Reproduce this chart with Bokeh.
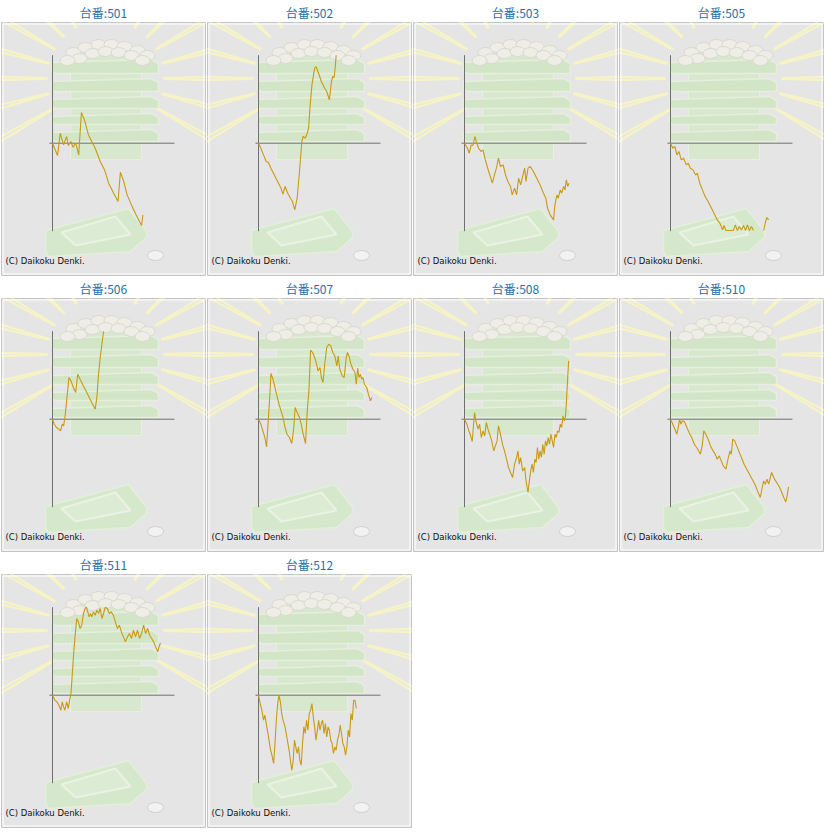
import math
from bokeh.plotting import figure
from bokeh.layouts import gridplot
from bokeh.models import Range1d, Label
from bokeh.embed import file_html
from bokeh.resources import INLINE

# ---------------- data (games played, ball difference) ----------------
machines = ["501", "502", "503", "505", "506", "507", "508", "510", "511", "512"]

games_501 = [0, 500, 767, 1100, 1400, 1567, 1833, 2033, 2300, 2600, 2867, 3167, 3567, 4233, 4733, 5167, 5567, 6067, 6500, 6733, 7067, 7400, 7833, 8300, 8833, 8967]
diff_501 = [0, -1230, 1000, -170, 670, -230, 170, -400, 0, -1170, 3070, 2330, 830, -500, -1830, -2670, -4000, -5000, -5830, -2900, -3830, -5170, -6170, -7170, -8230, -7170]

games_502 = [0, 233, 500, 767, 967, 1233, 1567, 1900, 2233, 2433, 2633, 2900, 3167, 3367, 3600, 3833, 4067, 4300, 4433, 4633, 4833, 4967, 5100, 5300, 5567, 5700, 5900, 6233, 6567, 6767, 7033, 7233, 7367, 7500, 7633, 7700]
diff_502 = [0, -500, -1170, -1830, -1900, -2500, -3170, -3830, -4500, -5100, -4330, -5000, -5500, -5830, -6670, -5500, -2830, 170, 670, 500, 1000, 1500, 3500, 5830, 7500, 7670, 7170, 6170, 5500, 5170, 4330, 6170, 6670, 6570, 7830, 8800]

games_503 = [0, 300, 467, 667, 833, 1033, 1167, 1400, 1633, 1833, 2067, 2400, 2767, 2967, 3167, 3367, 3567, 3833, 4067, 4300, 4567, 4733, 4967, 5167, 5367, 5567, 5800, 5967, 6100, 6300, 6500, 6633, 6833, 7167, 7500, 7833, 8067, 8233, 8500, 8833, 8967, 9167, 9300, 9500, 9633, 9833, 9967, 10100, 10233, 10367]
diff_503 = [0, -500, -1000, -170, -230, 670, 170, -500, -830, -670, -1670, -2830, -4000, -3170, -2500, -1500, -2330, -2170, -3170, -3830, -4330, -5170, -4500, -5170, -3500, -4170, -3170, -2500, -3830, -2500, -2330, -2500, -2830, -3500, -4170, -5000, -5500, -6500, -7170, -7670, -6170, -5170, -5500, -4670, -5000, -4330, -4670, -3670, -4330, -4000]

NAN = float("nan")
games_505 = [0, 233, 433, 633, 833, 1067, 1300, 1567, 1767, 1967, 2233, 2500, 2667, 2900, 3167, 3433, 3733, 4067, 4400, 4633, 4900, 5167, 5300, 5500, 5900, 6233, 6433, 6633, 6833, 7033, 7233, 7433, 7633, 7833, 8033, 8233, 8700, 9233, 9433, 9567, 9733]
diff_505 = [0, -500, -330, -1170, -830, -1670, -1500, -2170, -2000, -2500, -2670, -3170, -3000, -4000, -4670, -5330, -5830, -6500, -7170, -7670, -8000, -8670, -8230, -8730, -8730, -8730, -8170, -8730, -8330, -8670, -8230, -8730, -8170, -8730, -8330, -8730, NAN, -8730, -7830, -7430, -7670]

games_506 = [0, 167, 400, 633, 800, 967, 1100, 1233, 1400, 1633, 1833, 2067, 2300, 2500, 2733, 3067, 3400, 3733, 4067, 4233, 4400, 4567, 4733, 4900, 5067]
diff_506 = [0, -500, -830, -1000, -1170, -500, -670, 170, 1830, 4170, 3830, 3170, 2670, 4500, 4000, 3330, 2670, 2000, 1330, 1000, 2170, 4500, 6170, 7500, 8800]

games_507 = [0, 233, 433, 633, 800, 967, 1133, 1233, 1433, 1633, 1833, 2033, 2233, 2433, 2633, 2833, 3067, 3300, 3500, 3633, 3833, 4067, 4233, 4433, 4667, 4833, 5000, 5167, 5367, 5567, 5767, 5900, 6100, 6233, 6400, 6567, 6767, 6967, 7167, 7367, 7567, 7767, 7900, 8067, 8300, 8500, 8700, 8833, 8967, 9167, 9367, 9567, 9700, 9833, 9967, 10100, 10233, 10367, 10500, 10733, 10900, 11100, 11233]
diff_507 = [0, -500, -1170, -1830, -2770, -170, 2500, 4570, 4000, 3170, 2330, 1500, 830, 170, -830, -1500, -1830, -2430, -830, 1170, 670, 170, -500, -1500, -2430, 830, 2830, 6900, 6670, 6170, 5500, 4830, 5170, 4170, 3670, 5500, 7170, 7500, 7330, 6670, 6330, 5330, 6330, 5000, 4330, 4170, 6170, 6670, 6330, 5500, 5000, 4670, 3500, 5100, 4170, 4500, 4000, 4170, 3500, 3170, 2500, 1830, 2170]

games_508 = [0, 233, 433, 567, 767, 900, 1000, 1133, 1333, 1500, 1667, 1833, 2000, 2167, 2333, 2500, 2700, 2900, 3067, 3233, 3367, 3567, 3767, 3967, 4167, 4367, 4567, 4767, 4967, 5167, 5300, 5433, 5567, 5767, 5967, 6100, 6300, 6433, 6567, 6700, 6833, 6967, 7100, 7233, 7367, 7500, 7633, 7767, 7900, 8033, 8167, 8300, 8433, 8567, 8700, 8833, 8967, 9100, 9233, 9367, 9500, 9633, 9767, 9900, 10000, 10100, 10233, 10333]
diff_508 = [0, -500, -1170, -1500, -2230, -500, 670, -170, -1000, -500, -1830, -1170, -1670, -330, -1000, -1500, -2170, -3170, -2670, -2170, -670, -1500, -2500, -3170, -4000, -4830, -5330, -5830, -4500, -3830, -3170, -4500, -3830, -5170, -4830, -6170, -7330, -6170, -5170, -4500, -5330, -4000, -4330, -2830, -4000, -3170, -3830, -2500, -3500, -2170, -2670, -1830, -2500, -1500, -2170, -2830, -1500, -1830, -1170, -1330, -500, -830, 330, -170, 170, 1500, 4170, 5830]

games_510 = [0, 233, 433, 633, 767, 900, 1033, 1167, 1367, 1567, 1833, 2100, 2367, 2700, 2967, 3167, 3300, 3500, 3733, 3967, 4233, 4433, 4633, 4833, 5033, 5233, 5500, 5700, 5900, 6033, 6167, 6367, 6567, 6767, 7033, 7300, 7567, 7833, 8100, 8367, 8633, 8900, 9100, 9233, 9400, 9567, 9733, 9900, 10033, 10233, 10433, 10633, 10833, 11033, 11233, 11433, 11567, 11700]
diff_510 = [0, -500, -1000, -1500, -830, 0, -500, -170, -230, -670, -1330, -1830, -2500, -3000, -3500, -2500, -1170, -1500, -2000, -2670, -3170, -3500, -4000, -3670, -4170, -4670, -5000, -4000, -3170, -3500, -2000, -2170, -2670, -3170, -3830, -4500, -5000, -5500, -6000, -6500, -7170, -7830, -6830, -6170, -6500, -6000, -6500, -5830, -5330, -5830, -6170, -6500, -6830, -7330, -7830, -8270, -7670, -6770]

games_511 = [0, 233, 433, 633, 833, 967, 1100, 1233, 1400, 1567, 1700, 1833, 1967, 2100, 2233, 2400, 2567, 2733, 2900, 3067, 3233, 3367, 3500, 3633, 3767, 3900, 4067, 4233, 4400, 4567, 4733, 4900, 5067, 5233, 5433, 5633, 5833, 6033, 6233, 6433, 6633, 6833, 7033, 7233, 7433, 7633, 7833, 8033, 8233, 8433, 8633, 8833, 9033, 9233, 9433, 9633, 9833, 10033, 10233, 10433, 10567, 10700]
diff_511 = [0, -500, -670, -1000, -1500, -670, -1170, -1500, -670, -1330, -500, 170, 2170, 4170, 5830, 7670, 7330, 6670, 7000, 8170, 8670, 8800, 8330, 7830, 8170, 7830, 8330, 8000, 8500, 8170, 8670, 7670, 8170, 8800, 8670, 8170, 8330, 8000, 7330, 6670, 7000, 6330, 5830, 5330, 5830, 6170, 5670, 6500, 5830, 6500, 5670, 6170, 7000, 6170, 6670, 6000, 5670, 5330, 4830, 4330, 4830, 5230]

games_512 = [0, 167, 333, 500, 633, 767, 967, 1167, 1367, 1500, 1633, 1767, 1900, 2033, 2167, 2300, 2433, 2633, 2833, 3033, 3167, 3300, 3433, 3567, 3700, 3833, 3967, 4100, 4233, 4367, 4500, 4633, 4767, 4900, 5033, 5167, 5300, 5433, 5567, 5700, 5833, 5967, 6100, 6233, 6367, 6500, 6633, 6767, 6900, 7033, 7167, 7300, 7433, 7567, 7700, 7833, 7967, 8100, 8233, 8367, 8500, 8633, 8767, 8900, 9033, 9167, 9300, 9433, 9567, 9700]
diff_512 = [0, -830, -1500, -2500, -2000, -2830, -4000, -5330, -6170, -6830, -4830, -2500, -830, 0, -670, -1830, -2500, -3170, -4330, -5500, -6500, -7500, -6670, -4500, -5170, -5830, -5170, -6500, -7000, -4830, -3170, -3830, -2500, -3500, -1830, -1500, -830, -2170, -3170, -4500, -3500, -2500, -3500, -2830, -2500, -3830, -2830, -4170, -3170, -3500, -4500, -4830, -5830, -5170, -5500, -4500, -4000, -3000, -3830, -4830, -5170, -6000, -5170, -3500, -4170, -1830, -2500, -500, -500, -1330]

series = {
    "501": (games_501, diff_501), "502": (games_502, diff_502), "503": (games_503, diff_503),
    "505": (games_505, diff_505), "506": (games_506, diff_506), "507": (games_507, diff_507),
    "508": (games_508, diff_508), "510": (games_510, diff_510), "511": (games_511, diff_511),
    "512": (games_512, diff_512),
}

X_END = 12100      # end of horizontal axis (games)
Y_LIM = 8800       # vertical axis extent (+/- balls)

# ---------------- layout (pixels inside each framed box) ----------------
FW, FH = 204, 253
AX_LEFT, AX_RIGHT = 51, 173
ZERO_Y, TOP_Y = 120.7, 32.7
SX = X_END / (AX_RIGHT - AX_LEFT)
SY = Y_LIM / (ZERO_Y - TOP_Y)


def px(bx, by):
    return (bx - AX_LEFT) * SX, (ZERO_Y - by) * SY


LINE_COLOR = "#c99a12"
AXIS_COLOR = "#707070"
TITLE_COLOR = "#2a6fa6"


def decorate(p):
    # sun rays
    cx, cy = 104, 56
    x0s, y0s, x1s, y1s = [], [], [], []
    for k in range(17):
        ang = math.radians(-30 + k * 15)
        for d in (-2.5, 2.5):
            a2 = ang + math.radians(d) / 6
            ax, ay = px(cx + 58 * math.cos(a2), cy - 58 * math.sin(a2))
            bx, by = px(cx + 125 * math.cos(a2 + math.radians(d) / 4), cy - 125 * math.sin(a2 + math.radians(d) / 4))
            x0s.append(ax); y0s.append(ay); x1s.append(bx); y1s.append(by)
    p.segment(x0s, y0s, x1s, y1s, line_color="#f6f3c4", line_width=2.2)
    # stack body
    l, t = px(69, 30); r, b = px(140, 137)
    p.quad(left=l, right=r, top=t, bottom=b, fill_color="#d8e8cf", line_color="#e6efe0")
    # tray bands
    for (ty, by_) in [(37, 51), (56, 69), (74, 86), (91, 102), (107, 119)]:
        xs, ys = zip(*[px(50, ty + 3), px(150, ty), px(157, ty + 4), px(157, by_), px(53, by_), px(50, by_ - 3)])
        p.patch(list(xs), list(ys), fill_color="#d2e6c7", line_color="#e4efdc", line_width=1.5)
    # balls
    balls = [(72, 30), (84, 25), (97, 22), (110, 22), (123, 24), (136, 28), (146, 33),
             (78, 36), (91, 31), (104, 29), (117, 30), (130, 33), (141, 38), (66, 38)]
    bx_, by_ = zip(*[px(a, b) for a, b in balls])
    p.ellipse(list(bx_), list(by_), width=15 * SX, height=10 * SY, fill_color="#eeeee6", line_color="#d9d9cf")
    # lower tray
    xs, ys = zip(*[px(44, 208), px(127, 186), px(145, 209), px(145, 215), px(129, 229), px(47, 234), px(44, 229)])
    p.patch(list(xs), list(ys), fill_color="#d6e8cc", line_color="#e3efdb", line_width=1.5)
    xs, ys = zip(*[px(60, 210), px(114, 194), px(129, 212), px(74, 223)])
    p.patch(list(xs), list(ys), fill_color="#dcecd4", line_color="#e9f2e3", line_width=2)
    # coin
    cx2, cy2 = px(154, 233)
    p.ellipse([cx2], [cy2], width=16 * SX, height=10 * SY, fill_color="#f2f2f2", line_color="#cfcfcf")


figs = []
for m in machines:
    gx, gy = series[m]
    x0, _ = px(0, 0)
    x1, _ = px(FW, 0)
    _, y0 = px(0, FH)
    _, y1 = px(0, 0)
    p = figure(frame_width=FW, frame_height=FH, x_range=Range1d(x0, x1), y_range=Range1d(y0, y1),
               x_axis_type=None, y_axis_type=None, toolbar_location=None, output_backend="svg",
               min_border_left=1, min_border_right=1, min_border_bottom=1, min_border_top=0,
               title="台番:" + m, background_fill_color="#e5e5e5", border_fill_color="white")
    p.title.align = "center"
    p.title.text_font = "Noto Sans CJK JP"
    p.title.text_font_size = "12px"
    p.title.text_font_style = "normal"
    p.title.text_color = TITLE_COLOR
    p.title.standoff = 3
    p.outline_line_color = "#c4c4c4"
    p.grid.visible = False

    decorate(p)

    # inner white border
    l, t = px(1.5, 1.5); r, b = px(FW - 1.5, FH - 1.5)
    p.quad(left=l, right=r, top=t, bottom=b, fill_color=None, line_color="white", line_width=1)

    # axes
    p.segment([0, -300], [-Y_LIM, 0], [0, X_END], [Y_LIM, 0], line_color=AXIS_COLOR, line_width=1)

    p.line(gx, gy, line_color=LINE_COLOR, line_width=1.1)

    cxp, cyp = px(4, 238)
    p.add_layout(Label(x=cxp, y=cyp, text="(C) Daikoku Denki.", text_font="DejaVu Sans",
                       text_font_size="8.5px", text_color="#111111", text_baseline="middle"))
    figs.append(p)

grid = gridplot(figs, ncols=4, toolbar_location=None)
open("out.html", "w").write(file_html(grid, INLINE))
